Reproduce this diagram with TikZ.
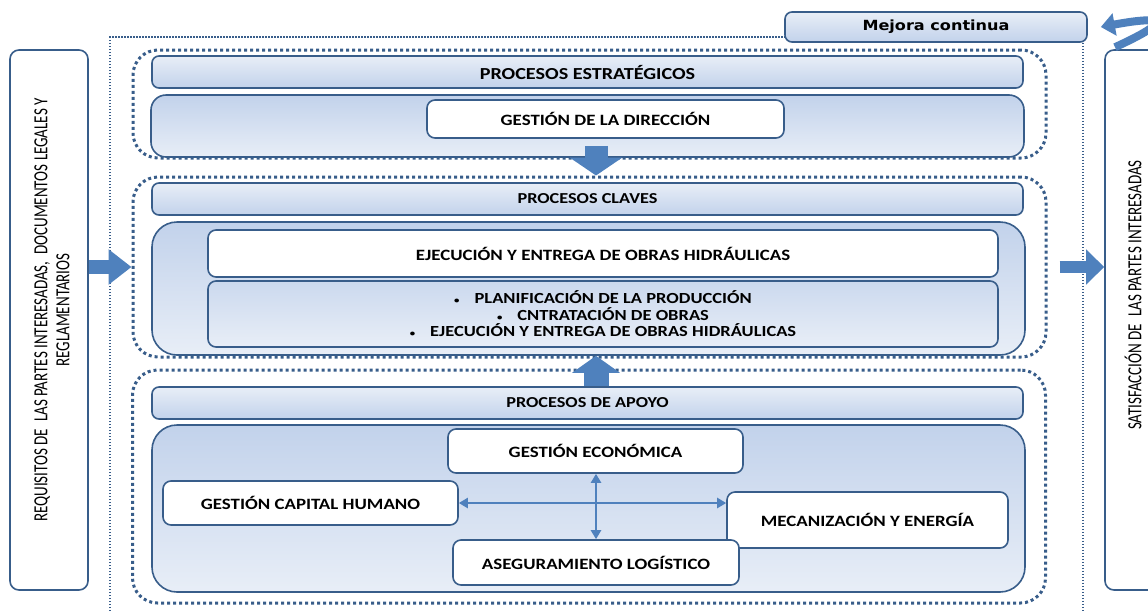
\documentclass[tikz,border=0pt]{standalone}
\usepackage{fontspec}
\setmainfont{Carlito}[FakeStretch=1.2]
\newfontfamily\sidefont{Carlito}[FakeStretch=0.75]
\newfontfamily\mejfont{DejaVu Sans}[FakeStretch=1.15]
\usepackage{tikz}
\usetikzlibrary{arrows.meta, positioning, calc}

\definecolor{lineblue}{RGB}{56,93,138}
\definecolor{arrowblue}{RGB}{79,129,189}
\definecolor{fillblue}{RGB}{194,210,235}
\definecolor{fillpale}{RGB}{232,238,247}

\newcommand{\bul}{{\fontsize{9}{9}\selectfont\textbullet}\hspace{15pt}}

\begin{document}
\begin{tikzpicture}[x=1pt, y=-1pt,
  grp/.style={draw=lineblue, line width=3pt, dash pattern=on 3pt off 3pt, rounded corners=25pt, minimum width=913pt, inner sep=0pt},
  bar/.style={draw=lineblue, line width=1.6pt, rounded corners=7pt, top color=fillpale, bottom color=fillblue, minimum width=871pt, minimum height=32pt, inner sep=0pt, font=\fontsize{15.2}{17}\selectfont\bfseries},
  panel/.style={draw=lineblue, line width=1.6pt, top color=fillblue, bottom color=fillpale, minimum width=873pt, inner sep=0pt},
  item/.style={draw=lineblue, line width=1.6pt, rounded corners=8pt, fill=white, inner sep=0pt, font=\fontsize{15.75}{18}\selectfont\bfseries},
  sidebox/.style={draw=lineblue, line width=1.6pt, rounded corners=9pt, fill=white, minimum height=540pt, inner sep=0pt},
  sidetext/.style={rotate=90, align=center, font=\sidefont\fontsize{20}{22}\selectfont},
  mejbox/.style={draw=lineblue, line width=1.6pt, rounded corners=7pt, top color=fillpale, bottom color=fillblue, minimum width=302pt, minimum height=30pt, inner sep=0pt, font=\mejfont\bfseries\fontsize{14}{16}\selectfont},
  outerline/.style={draw=lineblue, line width=1.5pt, dash pattern=on 1.5pt off 1.5pt},
  blockarr/.style n args={3}{draw=arrowblue, line width=#1, -{Triangle[length=#2, width=#3]}},
  dblarr/.style={draw=arrowblue, line width=2.5pt, {Triangle[length=9pt, width=10pt]}-{Triangle[length=9pt, width=10pt]}}
]
  \useasboundingbox (0,0) rectangle (1148,611);
  \coordinate (mid) at (596,0);

  % Side boxes
  \node[sidebox, minimum width=78pt] (req) at (49,320) {};
  \node[sidetext] (reqtext) at (52,310) {REQUISITOS DE\ \ LAS PARTES INTERESADAS,\ \ DOCUMENTOS LEGALES Y\\REGLAMENTARIOS};
  \node[sidebox, minimum width=60pt] (sat) at (1135,320) {};
  \node[sidetext] (sattext) at (1133,295) {SATISFACCIÓN DE\ \ LAS PARTES INTERESADAS};

  % Outer frame and improvement box
  \node[mejbox] (mejora) at (936,27) {Mejora continua};
  \draw[outerline] (110,611) |- ([yshift=-10pt]mejora.west);
  \draw[outerline] ([xshift=-5pt]mejora.south east) -- ++(0,580);

  % Process groups
  \node[grp, minimum height=108pt] (estgrp) at (589.5,104) {};
  \node[grp, minimum height=180pt] (clavgrp) at (589.5,267) {};
  \node[grp, minimum height=233pt] (apogrp) at (589,486.5) {};

  % Strategic processes
  \node[bar, font=\fontsize{16.8}{18}\selectfont\bfseries] (estbar) at (587.5,72) {PROCESOS ESTRATÉGICOS};
  \node[panel, rounded corners=15pt, minimum height=62pt] (estbox) at (587.5,126) {};
  \node[item, minimum width=357pt, minimum height=38pt] (dir) at (605.5,119) {GESTIÓN DE LA DIRECCIÓN};

  % Key processes
  \node[bar] (clavbar) at (587.5,199) {PROCESOS CLAVES};
  \node[panel, rounded corners=25pt, minimum height=133pt] (clavbox) at (588.5,288.5) {};
  \node[item, minimum width=790pt, minimum height=47pt] (ejec) at (603,253.5) {EJECUCIÓN Y ENTREGA DE OBRAS HIDRÁULICAS};
  \node[item, top color=fillblue!85, bottom color=fillpale, minimum width=790pt, minimum height=66pt, align=center, font=\fontsize{15.4}{16.5}\selectfont\bfseries] (plan) at (603,314)
    {\bul PLANIFICACIÓN DE LA PRODUCCIÓN\\\bul CNTRATACIÓN DE OBRAS\\\bul EJECUCIÓN Y ENTREGA DE OBRAS HIDRÁULICAS};

  % Support processes
  \node[bar] (apobar) at (587.5,403) {PROCESOS DE APOYO};
  \node[panel, rounded corners=25pt, minimum height=167pt] (apobox) at (588.5,508.5) {};
  \node[item, minimum width=295pt, minimum height=44pt] (econ) at (595.5,451) {GESTIÓN ECONÓMICA};
  \node[item, minimum width=295pt, minimum height=44pt] (capital) at (310.5,503) {GESTIÓN CAPITAL HUMANO};
  \node[item, minimum width=281pt, minimum height=56pt] (mecan) at (867.5,520) {MECANIZACIÓN Y ENERGÍA};
  \node[item, minimum width=286pt, minimum height=45pt] (logis) at (596,562.5) {ASEGURAMIENTO LOGÍSTICO};

  % Connectors
  \draw[blockarr={14pt}{23pt}{34pt}] (req.east |- clavgrp.west) -- (clavgrp.west);
  \draw[blockarr={12pt}{18pt}{34pt}] ([xshift=12pt]clavgrp.east) -- (sat.west |- clavgrp.east);
  \draw[blockarr={23pt}{18pt}{52pt}] ([yshift=-7pt]dir.south -| mid) -- (clavgrp.north -| mid);
  \draw[blockarr={25pt}{17pt}{47pt}] (apobar.north -| mid) -- (clavbox.south -| mid);
  \draw[dblarr] (econ.south -| mid) -- (logis.north -| mid);
  \draw[dblarr] (capital.east) -- (capital.east -| mecan.west);
  \draw[draw=arrowblue, line width=8pt, -{Triangle[length=14pt, width=22pt]}]
    ([xshift=-20pt,yshift=2pt]sat.north) .. controls (1185,15) and (1150,18) .. ([xshift=13pt]mejora.east);
\end{tikzpicture}
\end{document}
